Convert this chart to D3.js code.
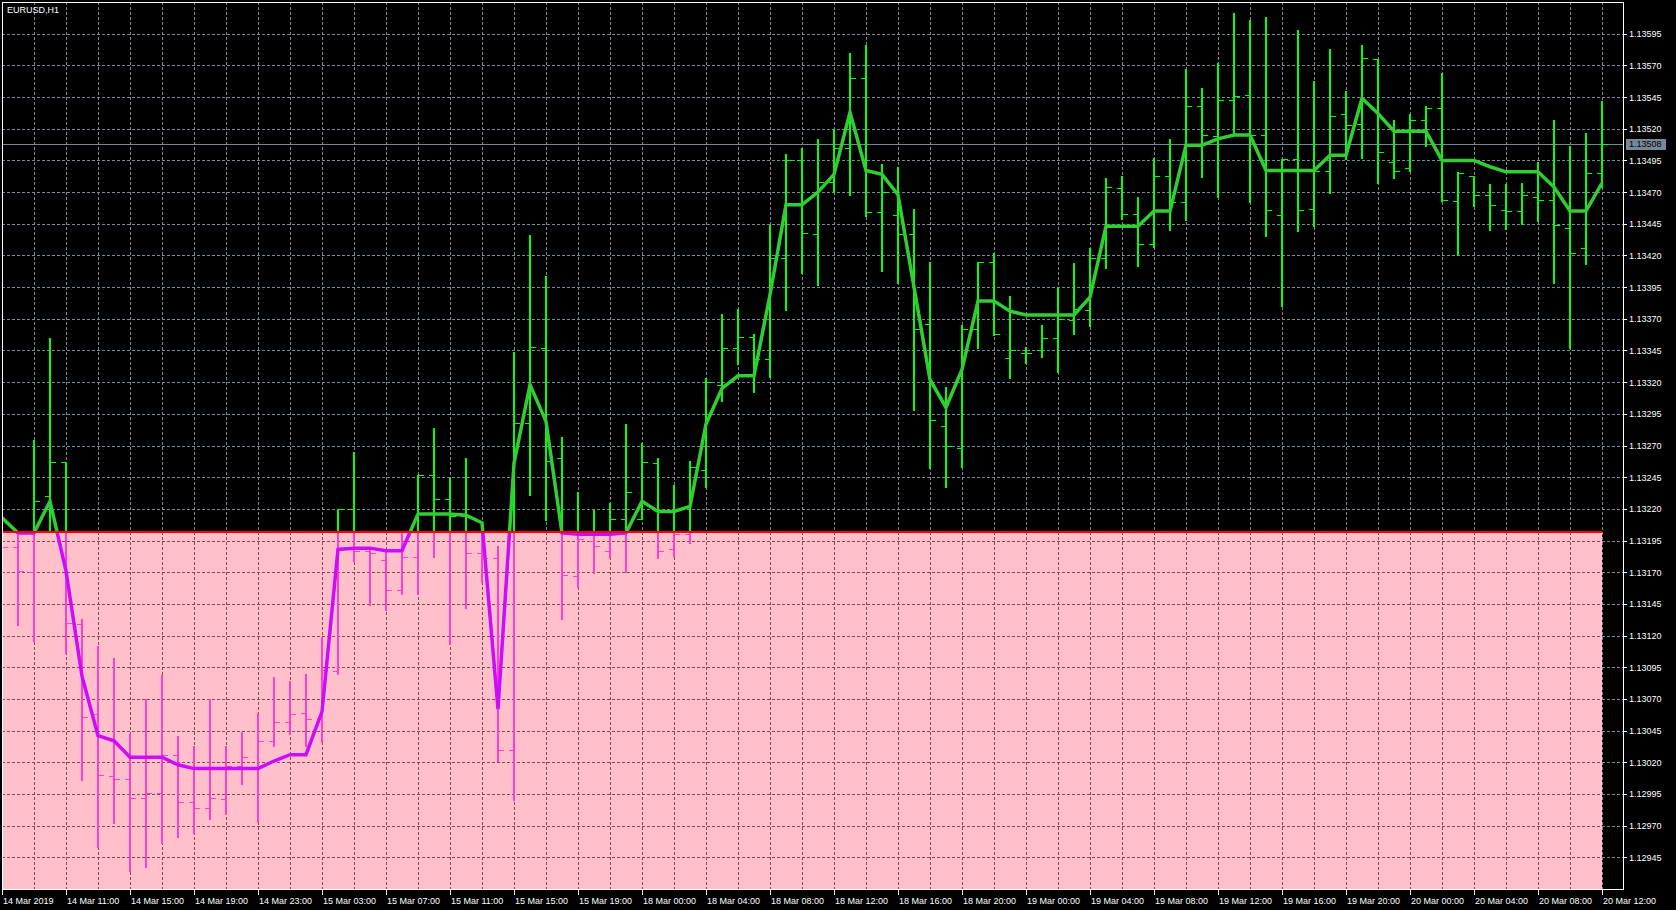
<!DOCTYPE html>
<html><head><meta charset="utf-8">
<script src="https://cdn.jsdelivr.net/npm/d3@7"></script>
<style>
html,body{margin:0;padding:0;background:#000;overflow:hidden;}
svg{display:block;}
text{font-family:"Liberation Sans",Arial,sans-serif;font-size:9px;}
</style></head>
<body>
<svg id="chart" width="1676" height="910"></svg>
<script>
// ---------------- data ----------------
const symbolTitle = "EURUSD,H1";
const threshold = 1.13202;
const lastPrice = 1.13508;
const openP = [1.13215,1.13190,1.13170,1.13230,1.13257,1.13129,1.13058,1.13009,1.13007,1.12992,
1.12996,1.13026,1.12989,1.12984,1.12991,1.13017,1.13015,1.13037,1.13052,1.13059,
1.13054,1.13092,1.13220,1.13187,1.13180,1.13156,1.13182,1.13247,1.13228,1.13214,
1.13185,1.13181,1.13030,1.13288,1.13347,1.13260,1.13167,1.13195,1.13187,1.13212,
1.13212,1.13256,1.13188,1.13200,1.13251,1.13318,1.13347,1.13356,1.13338,1.13418,
1.13495,1.13437,1.13478,1.13505,1.13560,1.13454,1.13452,1.13437,1.13366,1.13285,
1.13268,1.13362,1.13415,1.13339,1.13343,1.13345,1.13355,1.13369,1.13377,1.13418,
1.13473,1.13453,1.13429,1.13483,1.13462,1.13538,1.13514,1.13543,1.13547,1.13515,
1.13452,1.13496,1.13457,1.13487,1.13532,1.13524,1.13575,1.13494,1.13489,1.13527,
1.13536,1.13463,1.13483,1.13468,1.13456,1.13455,1.13466,1.13464,1.13442,1.13426,
1.13485];
const highP = [1.13228,1.13199,1.13274,1.13355,1.13257,1.13133,1.13112,1.13102,1.13042,1.13070,
1.13089,1.13041,1.13033,1.13070,1.13033,1.13044,1.13059,1.13087,1.13084,1.13090,
1.13119,1.13220,1.13265,1.13189,1.13187,1.13202,1.13247,1.13284,1.13244,1.13260,
1.13210,1.13191,1.13344,1.13436,1.13404,1.13277,1.13233,1.13219,1.13225,1.13287,
1.13272,1.13260,1.13239,1.13258,1.13323,1.13374,1.13378,1.13358,1.13444,1.13500,
1.13505,1.13512,1.13520,1.13580,1.13586,1.13492,1.13490,1.13457,1.13415,1.13316,
1.13365,1.13415,1.13422,1.13388,1.13348,1.13365,1.13395,1.13414,1.13426,1.13481,
1.13483,1.13466,1.13497,1.13512,1.13567,1.13552,1.13572,1.13611,1.13606,1.13608,
1.13496,1.13598,1.13558,1.13583,1.13550,1.13586,1.13575,1.13527,1.13532,1.13538,
1.13564,1.13486,1.13483,1.13476,1.13476,1.13477,1.13494,1.13527,1.13506,1.13517,
1.13542];
const lowP = [1.13185,1.13128,1.13116,1.13203,1.13106,1.13006,1.12953,1.12972,1.12934,1.12937,
1.12956,1.12961,1.12964,1.12975,1.12979,1.13003,1.12973,1.13033,1.13042,1.13033,
1.13036,1.13090,1.13179,1.13144,1.13140,1.13153,1.13153,1.13182,1.13113,1.13142,
1.13162,1.13021,1.12990,1.13231,1.13211,1.13133,1.13158,1.13169,1.13181,1.13170,
1.13212,1.13181,1.13183,1.13193,1.13237,1.13305,1.13334,1.13312,1.13324,1.13377,
1.13406,1.13397,1.13470,1.13468,1.13451,1.13408,1.13398,1.13298,1.13252,1.13237,
1.13253,1.13347,1.13357,1.13323,1.13335,1.13340,1.13328,1.13358,1.13364,1.13410,
1.13449,1.13412,1.13427,1.13440,1.13448,1.13482,1.13466,1.13516,1.13462,1.13435,
1.13380,1.13439,1.13443,1.13469,1.13496,1.13497,1.13477,1.13481,1.13487,1.13506,
1.13463,1.13420,1.13459,1.13440,1.13441,1.13445,1.13447,1.13398,1.13347,1.13413,
1.13474];
const closeP = [1.13190,1.13171,1.13226,1.13257,1.13130,1.13056,1.13010,1.13007,1.12992,1.12996,
1.13026,1.12989,1.12984,1.12992,1.13017,1.13024,1.13037,1.13052,1.13058,1.13054,
1.13093,1.13220,1.13187,1.13185,1.13156,1.13182,1.13247,1.13228,1.13214,1.13185,
1.13181,1.13030,1.13288,1.13348,1.13258,1.13168,1.13196,1.13191,1.13212,1.13233,
1.13257,1.13187,1.13200,1.13253,1.13320,1.13347,1.13356,1.13338,1.13418,1.13495,
1.13438,1.13478,1.13505,1.13560,1.13454,1.13470,1.13437,1.13362,1.13290,1.13270,
1.13362,1.13415,1.13358,1.13345,1.13343,1.13355,1.13370,1.13378,1.13418,1.13474,
1.13453,1.13429,1.13483,1.13462,1.13538,1.13515,1.13543,1.13546,1.13515,1.13456,
1.13496,1.13456,1.13487,1.13530,1.13523,1.13576,1.13502,1.13487,1.13527,1.13536,
1.13464,1.13485,1.13468,1.13460,1.13455,1.13468,1.13464,1.13444,1.13422,1.13485,
1.13508];
const maLine = [1.13213,1.13201,1.13201,1.13226,1.13171,1.13088,1.13041,1.13037,1.13024,1.13024,
1.13024,1.13018,1.13015,1.13015,1.13015,1.13015,1.13015,1.13021,1.13026,1.13026,
1.13060,1.13188,1.13189,1.13189,1.13187,1.13187,1.13216,1.13216,1.13216,1.13215,
1.13209,1.13062,1.13256,1.13318,1.13289,1.13201,1.13200,1.13200,1.13200,1.13201,
1.13226,1.13218,1.13218,1.13222,1.13287,1.13315,1.13325,1.13325,1.13389,1.13460,
1.13460,1.13470,1.13484,1.13533,1.13487,1.13484,1.13468,1.13395,1.13322,1.13300,
1.13330,1.13384,1.13384,1.13376,1.13373,1.13373,1.13373,1.13373,1.13387,1.13443,
1.13443,1.13443,1.13455,1.13455,1.13507,1.13507,1.13512,1.13515,1.13515,1.13487,
1.13487,1.13487,1.13487,1.13499,1.13499,1.13544,1.13532,1.13518,1.13518,1.13518,
1.13495,1.13495,1.13495,1.13490,1.13486,1.13486,1.13486,1.13474,1.13455,1.13455,
1.13477];
const priceTicks = [1.13595,1.13570,1.13545,1.13520,1.13495,1.13470,1.13445,1.13420,1.13395,1.13370,
1.13345,1.13320,1.13295,1.13270,1.13245,1.13220,1.13195,1.13170,1.13145,1.13120,1.13095,1.13070,
1.13045,1.13020,1.12995,1.12970,1.12945];
const timeTickIndex = [0,4,8,12,16,20,24,28,32,36,40,44,48,52,56,60,64,68,72,76,80,84,88,92,96,100];
const timeTickLabels = ["14 Mar 2019","14 Mar 11:00","14 Mar 15:00","14 Mar 19:00","14 Mar 23:00",
"15 Mar 03:00","15 Mar 07:00","15 Mar 11:00","15 Mar 15:00","15 Mar 19:00",
"18 Mar 00:00","18 Mar 04:00","18 Mar 08:00","18 Mar 12:00","18 Mar 16:00","18 Mar 20:00",
"19 Mar 00:00","19 Mar 04:00","19 Mar 08:00","19 Mar 12:00","19 Mar 16:00","19 Mar 20:00",
"20 Mar 00:00","20 Mar 04:00","20 Mar 08:00","20 Mar 12:00"];

// ---------------- layout ----------------
const L = 2, T = 2, R = 1623, B = 889;
const svg = d3.select("#chart");
const nBars = openP.length;
const bars = d3.range(nBars).map(i => ({i, o: openP[i], h: highP[i], l: lowP[i], c: closeP[i], m: maLine[i]}));

const x = d3.scaleLinear().domain([0, nBars - 1]).range([2, 1602]);
const y = d3.scaleLinear().domain([1.12945, 1.13595]).range([857.3, 33.7]);
const yT = y(threshold);
const xLast = x(nBars - 1);

const C = {
  grid: "#778899", gridX: "#884852", pink: "#FFC0CB",
  bar: "#00FF00", barX: "#FF3FCB", ma: "#32CD32", maX: "#CD0DF9", red: "#FF0000"
};

svg.append("rect").attr("width", 1676).attr("height", 910).attr("fill", "#000");

const defs = svg.append("defs");
defs.append("clipPath").attr("id", "clipUp").append("rect")
  .attr("x", L).attr("y", T).attr("width", R - L).attr("height", yT - T);
defs.append("clipPath").attr("id", "clipDown").append("rect")
  .attr("x", L).attr("y", yT).attr("width", xLast - L).attr("height", B - yT);
defs.append("clipPath").attr("id", "clipPlot").append("rect")
  .attr("x", L).attr("y", T).attr("width", R - L).attr("height", B - T);

const snap = v => Math.round(v) + 0.5;
const gridIdx = d3.range(2, nBars + 1, 2);

function drawGrid(g, color) {
  g.selectAll("line.h").data(priceTicks).join("line").attr("class", "h")
    .attr("x1", L).attr("x2", R).attr("y1", d => snap(y(d))).attr("y2", d => snap(y(d)))
    .attr("stroke", color).attr("stroke-width", 1).attr("stroke-dasharray", "3,2");
  g.selectAll("line.v").data(gridIdx).join("line").attr("class", "v")
    .attr("x1", d => snap(x(d))).attr("x2", d => snap(x(d))).attr("y1", T).attr("y2", B)
    .attr("stroke", color).attr("stroke-width", 1).attr("stroke-dasharray", "3,2");
}

// grid (normal)
drawGrid(svg.append("g").attr("clip-path", "url(#clipPlot)").attr("shape-rendering", "crispEdges"), C.grid);

// pink zone
svg.append("rect").attr("x", L).attr("y", yT).attr("width", xLast - L).attr("height", B - yT).attr("fill", C.pink);
drawGrid(svg.append("g").attr("clip-path", "url(#clipDown)").attr("shape-rendering", "crispEdges"), C.gridX);

// current price line
svg.append("line").attr("x1", L).attr("x2", R).attr("y1", snap(y(lastPrice))).attr("y2", snap(y(lastPrice)))
  .attr("stroke", C.grid).attr("stroke-width", 1).attr("shape-rendering", "crispEdges");

function drawBars(g, color) {
  const bg = g.selectAll("g.bar").data(bars).join("g").attr("class", "bar")
    .attr("stroke", color).attr("shape-rendering", "crispEdges");
  bg.append("line").attr("x1", d => x(d.i)).attr("x2", d => x(d.i))
    .attr("y1", d => Math.round(y(d.h))).attr("y2", d => Math.round(y(d.l)) + 1).attr("stroke-width", 2);
  bg.append("line").attr("x1", d => x(d.i) - 5).attr("x2", d => x(d.i))
    .attr("y1", d => snap(y(d.o))).attr("y2", d => snap(y(d.o))).attr("stroke-width", 1.5);
  bg.append("line").attr("x1", d => x(d.i)).attr("x2", d => x(d.i) + 6)
    .attr("y1", d => snap(y(d.c))).attr("y2", d => snap(y(d.c))).attr("stroke-width", 1.5);
}
function drawMA(g, color) {
  g.append("path").datum(bars)
    .attr("d", d3.line().x(d => x(d.i)).y(d => y(d.m)))
    .attr("fill", "none").attr("stroke", color).attr("stroke-width", 3.5).attr("stroke-linejoin", "miter");
}
const up = svg.append("g").attr("clip-path", "url(#clipUp)");
const down = svg.append("g").attr("clip-path", "url(#clipDown)");
drawBars(up.append("g"), C.bar);
drawBars(down.append("g"), C.barX);
drawMA(up.append("g"), C.ma);
drawMA(down.append("g"), C.maX);

// threshold line
svg.append("line").attr("x1", L).attr("x2", xLast).attr("y1", yT).attr("y2", yT)
  .attr("stroke", C.red).attr("stroke-width", 2).attr("shape-rendering", "crispEdges");

// border
svg.append("rect").attr("x", L + 0.5).attr("y", T + 0.5).attr("width", R - L).attr("height", B - T - 0.3)
  .attr("fill", "none").attr("stroke", "#fff").attr("stroke-width", 1).attr("shape-rendering", "crispEdges");

// price axis
const yAxis = svg.append("g");
yAxis.selectAll("line").data(priceTicks).join("line")
  .attr("x1", R).attr("x2", R + 4).attr("y1", d => snap(y(d))).attr("y2", d => snap(y(d)))
  .attr("stroke", "#fff").attr("shape-rendering", "crispEdges");
yAxis.selectAll("text").data(priceTicks).join("text")
  .attr("x", R + 6).attr("y", d => y(d) + 3.5).attr("fill", "#fff").text(d => d.toFixed(5));

// last price label
const lp = svg.append("g");
lp.append("rect").attr("x", 1626).attr("y", Math.round(y(lastPrice)) - 5).attr("width", 40).attr("height", 11)
  .attr("fill", C.grid);
lp.append("text").attr("x", 1629).attr("y", y(lastPrice) + 3.5).attr("fill", "#000").text(lastPrice.toFixed(5));

// time axis
const xAxis = svg.append("g");
xAxis.selectAll("line").data(timeTickIndex).join("line")
  .attr("x1", d => snap(x(d))).attr("x2", d => snap(x(d))).attr("y1", B).attr("y2", B + 6)
  .attr("stroke", "#fff").attr("shape-rendering", "crispEdges");
xAxis.selectAll("text").data(timeTickIndex).join("text")
  .attr("x", d => x(d) + 1).attr("y", 904).attr("fill", "#fff").text((d, k) => timeTickLabels[k]);

// title
svg.append("text").attr("x", 7).attr("y", 13).attr("fill", "#fff").text(symbolTitle);
</script>
</body></html>
